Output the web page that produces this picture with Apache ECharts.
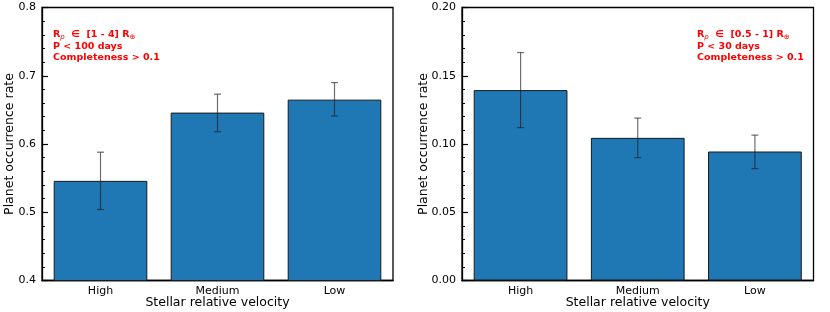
<!DOCTYPE html>
<html>
<head>
<meta charset="utf-8">
<script src="https://cdn.jsdelivr.net/npm/echarts@6/dist/echarts.min.js"></script>
<style>
html,body{margin:0;padding:0;background:#fff;}
#chart{width:830px;height:312px;}
</style>
</head>
<body>
<div id="chart"></div>
<script>
const categories = ['High', 'Medium', 'Low'];
const leftValues = [0.546, 0.646, 0.665];
const leftErrLow = [0.504, 0.618, 0.641];
const leftErrHigh = [0.588, 0.673, 0.690];
const rightValues = [0.1395, 0.1045, 0.0945];
const rightErrLow = [0.112, 0.090, 0.082];
const rightErrHigh = [0.167, 0.119, 0.1065];
const leftAxis = {min: 0.4, max: 0.8, interval: 0.1, decimals: 1};
const rightAxis = {min: 0.0, max: 0.2, interval: 0.05, decimals: 2};
const xName = 'Stellar relative velocity';
const yName = 'Planet occurrence rate';

const FONT = 'DejaVu Sans';
const chart = echarts.init(document.getElementById('chart'), null, {renderer: 'canvas'});

function errData(lo, hi) {
  return categories.map((c, i) => [i, lo[i], hi[i]]);
}
function errRender(params, api) {
  const i = api.value(0);
  const p1 = api.coord([i, api.value(1)]);
  const p2 = api.coord([i, api.value(2)]);
  const cap = 3.5;
  const st = {stroke: 'rgba(30,30,30,0.65)', lineWidth: 1.2};
  return {
    type: 'group',
    children: [
      {type: 'line', shape: {x1: p1[0], y1: p1[1], x2: p2[0], y2: p2[1]}, style: st},
      {type: 'line', shape: {x1: p1[0] - cap, y1: p1[1], x2: p1[0] + cap, y2: p1[1]}, style: st},
      {type: 'line', shape: {x1: p2[0] - cap, y1: p2[1], x2: p2[0] + cap, y2: p2[1]}, style: st}
    ]
  };
}
function xAxisDef(gi) {
  return {
    type: 'category', gridIndex: gi, data: categories,
    name: xName, nameLocation: 'middle', nameGap: 16, nameMoveOverlap: false,
    nameTextStyle: {fontFamily: FONT, fontSize: 12.5, color: '#000'},
    axisLine: {show: true, lineStyle: {color: '#000', width: 1.3}},
    axisTick: {show: true, inside: true, alignWithLabel: true, length: 6, lineStyle: {color: '#000', width: 1.2}},
    axisLabel: {fontFamily: FONT, fontSize: 11, color: '#000', margin: 5},
    splitLine: {show: false}
  };
}
function yAxisDef(gi, ax) {
  return {
    type: 'value', gridIndex: gi, min: ax.min, max: ax.max, interval: ax.interval,
    name: yName, nameLocation: 'middle', nameGap: gi === 0 ? 26 : 32, nameMoveOverlap: false,
    nameTextStyle: {fontFamily: FONT, fontSize: 12.5, color: '#000'},
    axisLine: {show: true, lineStyle: {color: '#000', width: 1.3}},
    axisTick: {show: true, inside: true, length: 6, lineStyle: {color: '#000', width: 1.2}},
    minorTick: {show: true, splitNumber: 5, length: 3, lineStyle: {color: '#000', width: 1}},
    axisLabel: {fontFamily: FONT, fontSize: 11, color: '#000', margin: 6,
      formatter: v => v.toFixed(ax.decimals)},
    splitLine: {show: false}, minorSplitLine: {show: false}
  };
}
function annot(left, lines) {
  return {
    left: left, top: 29, padding: 0,
    text: lines,
    textStyle: {
      fontFamily: FONT, fontSize: 9.5, fontWeight: 'bold', color: '#ff0000', lineHeight: 11.5,
      rich: {
        b: {fontFamily: FONT, fontSize: 9.5, fontWeight: 'bold', color: '#ff0000', lineHeight: 11.5},
        sub: {fontFamily: FONT, fontSize: 7, fontStyle: 'italic', fontWeight: 'normal', color: '#ff0000', lineHeight: 11.5, verticalAlign: 'bottom', padding: [3, 0, 0, 0]},
        sub2: {fontFamily: FONT, fontSize: 7, fontWeight: 'normal', color: '#ff0000', lineHeight: 11.5, verticalAlign: 'bottom', padding: [3, 0, 0, 0]}
      }
    }
  };
}

const gridCommon = {show: true, borderColor: '#000', borderWidth: 1.3, backgroundColor: 'transparent',
  containLabel: false, outerBoundsMode: 'none'};

const option = {
  backgroundColor: '#fff',
  animation: false,
  title: [
    annot(53, '{b|R}{sub|p}{b|  ∈  [1 - 4] R}{sub2|⊕}\n{b|P < 100 days}\n{b|Completeness > 0.1}'),
    annot(697, '{b|R}{sub|p}{b|  ∈  [0.5 - 1] R}{sub2|⊕}\n{b|P < 30 days}\n{b|Completeness > 0.1}')
  ],
  grid: [
    Object.assign({left: 42, right: 437, top: 7.5, bottom: 31.5}, gridCommon),
    Object.assign({left: 462, right: 16.5, top: 7.5, bottom: 31.5}, gridCommon)
  ],
  xAxis: [xAxisDef(0), xAxisDef(1)],
  yAxis: [yAxisDef(0, leftAxis), yAxisDef(1, rightAxis)],
  series: [
    {type: 'bar', xAxisIndex: 0, yAxisIndex: 0, data: leftValues, barCategoryGap: '20%',
      itemStyle: {color: '#1f77b4', borderColor: '#1a1a1a', borderWidth: 1}},
    {type: 'bar', xAxisIndex: 1, yAxisIndex: 1, data: rightValues, barCategoryGap: '20%',
      itemStyle: {color: '#1f77b4', borderColor: '#1a1a1a', borderWidth: 1}},
    {type: 'custom', xAxisIndex: 0, yAxisIndex: 0, data: errData(leftErrLow, leftErrHigh),
      encode: {x: 0, y: [1, 2]}, renderItem: errRender, z: 5},
    {type: 'custom', xAxisIndex: 1, yAxisIndex: 1, data: errData(rightErrLow, rightErrHigh),
      encode: {x: 0, y: [1, 2]}, renderItem: errRender, z: 5}
  ]
};
chart.setOption(option);
</script>
</body>
</html>
